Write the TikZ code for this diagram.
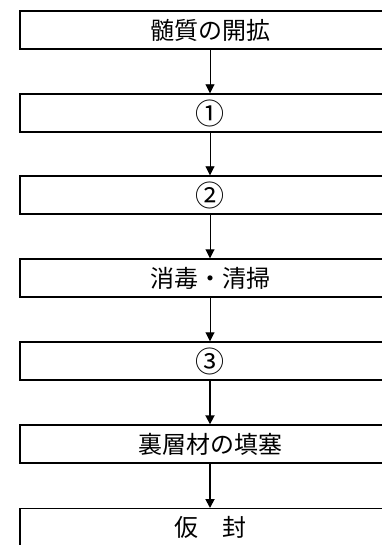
\documentclass[tikz,border=0pt]{standalone}
\usepackage{fontspec}
\newfontfamily\cjk{Noto Sans CJK JP}
\usetikzlibrary{arrows.meta}
\begin{document}
\begin{tikzpicture}[x=1pt,y=-1pt,
  stepbox/.style={draw=black, line width=1.4pt, rectangle, minimum width=380pt, minimum height=38pt, inner sep=0pt, font=\cjk\fontsize{24pt}{26pt}\selectfont},
  numbox/.style={stepbox, font=\cjk\fontsize{29pt}{30pt}\selectfont},
  flow/.style={draw=black, line width=0.9pt, -{Triangle[width=9pt,length=9pt]}, shorten >=0pt},
  flowthick/.style={flow, line width=1.8pt}]
\useasboundingbox (0,0) rectangle (382,545);
\clip (0,0) rectangle (382,545);
\node[stepbox] (b1) at (210,30) {髄質の開拡};
\node[numbox] (b2) at (210,113) {①};
\node[numbox] (b3) at (210,195) {②};
\node[stepbox] (b4) at (210,278) {消毒・清掃};
\node[numbox] (b5) at (210,361) {③};
\node[stepbox] (b6) at (210,444) {裏層材の填塞};
\node[stepbox, minimum height=52pt, anchor=north] (b7) at (210,508) {};
\node[font=\cjk\fontsize{24pt}{26pt}\selectfont] (t7) at (210,527) {仮　封};
\draw[flow] (b1.south) -- (b2.north);
\draw[flow] (b2.south) -- (b3.north);
\draw[flow] (b3.south) -- (b4.north);
\draw[flow] (b4.south) -- (b5.north);
\draw[flowthick] (b5.south) -- (b6.north);
\draw[flowthick] (b6.south) -- (b7.north);
\end{tikzpicture}
\end{document}
